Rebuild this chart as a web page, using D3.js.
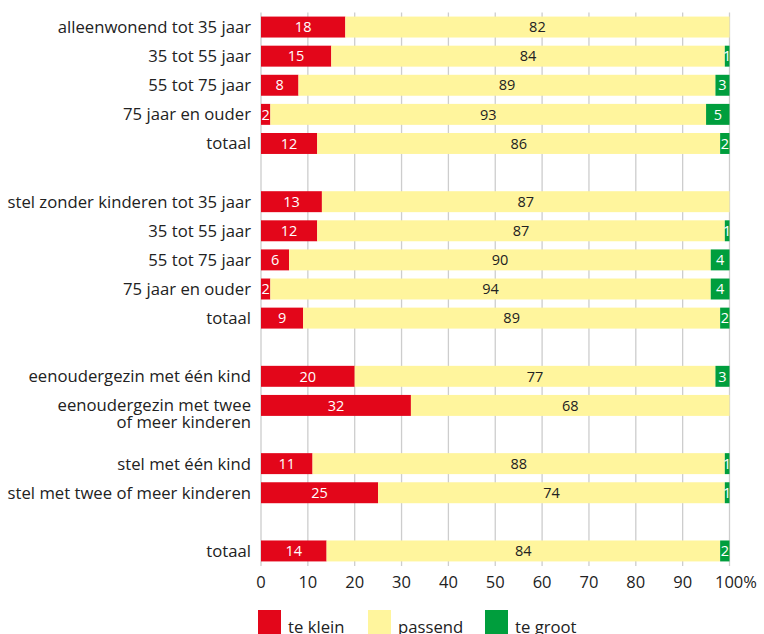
<!DOCTYPE html>
<html>
<head>
<meta charset="utf-8">
<script src="https://cdn.jsdelivr.net/npm/d3@7"></script>
<style>
  body { margin: 0; background: #fff; }
  svg { display: block; font-family: "Open Sans", sans-serif; }
</style>
</head>
<body>
<svg id="chart" width="764" height="634"></svg>
<script>
// rows in display order; null = empty spacer row
const labels = [
  ['alleenwonend tot 35 jaar'], ['35 tot 55 jaar'], ['55 tot 75 jaar'], ['75 jaar en ouder'], ['totaal'],
  null,
  ['stel zonder kinderen tot 35 jaar'], ['35 tot 55 jaar'], ['55 tot 75 jaar'], ['75 jaar en ouder'], ['totaal'],
  null,
  ['eenoudergezin met één kind'], ['eenoudergezin met twee', 'of meer kinderen'],
  null,
  ['stel met één kind'], ['stel met twee of meer kinderen'],
  null,
  ['totaal']
]
const teKlein  = [18, 15, 8, 2, 12, null, 13, 12, 6, 2, 9, null, 20, 32, null, 11, 25, null, 14]
const passend  = [82, 84, 89, 93, 86, null, 87, 87, 90, 94, 89, null, 77, 68, null, 88, 74, null, 84]
const teGroot  = [0, 1, 3, 5, 2, null, 0, 1, 4, 4, 2, null, 3, 0, null, 1, 1, null, 2]

const seriesNames = ['te klein', 'passend', 'te groot']
const colors = ['#e3061a', '#fff59d', '#009e3d']
const textColors = ['#fff', '#222', '#fff']
const ticks = [0, 10, 20, 30, 40, 50, 60, 70, 80, 90, 100]

const svg = d3.select('#chart')

const x = d3.scaleLinear().domain([0, 100]).range([261, 729.5])
const y = d3.scaleBand()
  .domain(d3.range(labels.length))
  .range([12.5, 565.5])
  .paddingInner(0.28)
  .paddingOuter(0.14)

// gridlines
svg.append('g')
  .selectAll('line')
  .data(ticks)
  .join('line')
  .attr('x1', d => x(d)).attr('x2', d => x(d))
  .attr('y1', 12.5).attr('y2', 566)
  .attr('stroke', '#cdcdcd').attr('stroke-width', 1.3)

// stacked data
const rows = labels.map((l, i) => ({ i, vals: [teKlein[i], passend[i], teGroot[i]] }))
  .filter(r => labels[r.i] !== null)

const segs = []
rows.forEach(r => {
  let acc = 0
  r.vals.forEach((v, k) => {
    segs.push({ i: r.i, k, v, x0: acc, x1: acc + v })
    acc += v
  })
})

const gBars = svg.append('g')
gBars.selectAll('rect')
  .data(segs.filter(s => s.v > 0))
  .join('rect')
  .attr('x', s => x(s.x0))
  .attr('width', s => x(s.x1) - x(s.x0))
  .attr('y', s => y(s.i))
  .attr('height', y.bandwidth())
  .attr('fill', s => colors[s.k])

gBars.selectAll('text')
  .data(segs.filter(s => s.v > 0))
  .join('text')
  .attr('x', s => (x(s.x0) + x(s.x1)) / 2)
  .attr('y', s => y(s.i) + y.bandwidth() / 2)
  .attr('dy', '0.36em')
  .attr('text-anchor', 'middle')
  .attr('fill', s => textColors[s.k])
  .style('font-size', '14.5px')
  .text(s => s.v)

// category labels
const gLab = svg.append('g')
labels.forEach((l, i) => {
  if (!l) return
  const t = gLab.append('text')
    .attr('x', 251)
    .attr('y', y(i) + y.bandwidth() / 2)
    .attr('text-anchor', 'end')
    .attr('fill', '#222')
    .style('font-size', '16.7px')
  l.forEach((line, j) => {
    t.append('tspan')
      .attr('x', 251)
      .attr('dy', j === 0 ? '0.36em' : '17')
      .text(line)
  })
})

// x axis tick labels
svg.append('g')
  .selectAll('text')
  .data(ticks)
  .join('text')
  .attr('x', d => d === 100 ? x(d) - 14.5 : x(d))
  .attr('y', 588)
  .attr('text-anchor', d => d === 100 ? 'start' : 'middle')
  .attr('fill', '#222')
  .style('font-size', '16.5px')
  .text(d => d === 100 ? '100%' : d)

// legend
const legX = [258, 368, 485]
const leg = svg.append('g')
seriesNames.forEach((n, k) => {
  leg.append('rect')
    .attr('x', legX[k]).attr('y', 610)
    .attr('width', 23).attr('height', 24)
    .attr('fill', colors[k])
  leg.append('text')
    .attr('x', legX[k] + 30).attr('y', 633)
    .attr('fill', '#222')
    .style('font-size', '16.7px')
    .text(n)
})
</script>
</body>
</html>
